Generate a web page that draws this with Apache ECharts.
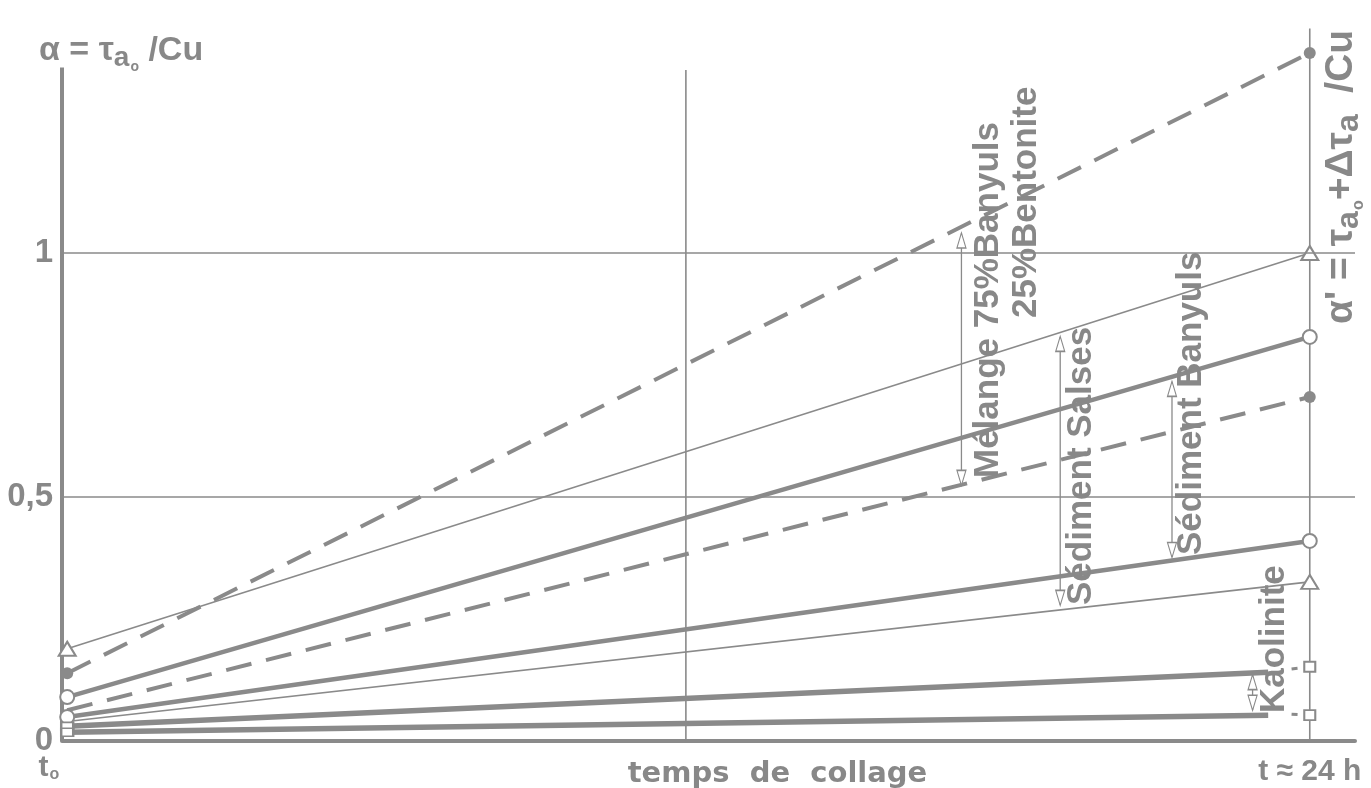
<!DOCTYPE html>
<html><head><meta charset="utf-8">
<script src="https://cdn.jsdelivr.net/npm/echarts@6/dist/echarts.min.js"></script>
<style>html,body{margin:0;padding:0;background:#fff}#c{width:1371px;height:788px}</style>
</head><body><div id="c"></div>
<script>
// ---------------- data ----------------
// x: hours of collage (t0 .. t≈24h); y: alpha = tau_a0 / Cu
const xStart = 0.1, xEnd = 24;
const yTickValues = [0, 0.5, 1];
const yTickLabels = ['0', '0,5', '1'];
const xTickValues = [0, 24];
const gridY = [0.5, 1];
const midLineX = 12, midLineTop = 1.375;
const rightLineTop = 1.46;
const leftAxisTop = 1.38;

// Mélange 75% Banyuls / 25% Bentonite (dashed, filled dots)
const melangeUpper = [0.139, 1.41];
const melangeLower = [0.063, 0.705];
// Sédiment Salses (thin, triangles)
const salsesUpper = [0.189, 1.0];
const salsesLower = [0.04, 0.326];
// Sédiment Banyuls (thick, open circles)
const banyulsUpper = [0.09, 0.828];
const banyulsLower = [0.049, 0.41];
// Kaolinite (thick, squares) : solid part, dashed tail point, end square
const kaoliniteX = [0.1, 23.2, 23.65, 24];
const kaoliniteUpper = [0.03, 0.141, 0.1475, 0.152];
const kaoliniteLower = [0.018, 0.053, 0.055, 0.053];

// double arrows: x, top, bottom
const arrowX = [17.3, 19.2, 21.35, 22.9];
const arrowTop = [1.04, 0.828, 0.736, 0.135];
const arrowBottom = [0.525, 0.279, 0.377, 0.064];

// ---------------- styling ----------------
const C = '#8a8a8a';
const TXT = '#888888';
const FONT = '"Liberation Sans", Arial, Helvetica, sans-serif';

function pt(x, y, sym, size, filled) {
  if (!sym) return { value: [x, y], symbol: 'none' };
  return { value: [x, y], symbol: sym, symbolSize: size,
    itemStyle: { color: filled ? C : '#fff', borderColor: C, borderWidth: filled ? 0 : 2 } };
}
function lineSeries(data, width, type, z) {
  return { type: 'line', data, clip: false, z: z || 3, showSymbol: true,
    lineStyle: { color: C, width, type: type || 'solid' }, emphasis: { disabled: true }, silent: true };
}
const series = [];
series.push({ type: 'line', data: [], silent: true,
  markLine: { silent: true, symbol: 'none', label: { show: false },
    lineStyle: { color: C, width: 1.6, type: 'solid' },
    data: gridY.map(v => ({ yAxis: v })) } });
series.push(lineSeries([pt(0, 0), pt(0, leftAxisTop)], 4, 'solid', 2));
series.push(lineSeries([pt(midLineX, 0), pt(midLineX, midLineTop)], 1.6, 'solid', 2));
series.push(lineSeries([pt(xEnd, 0), pt(xEnd, rightLineTop)], 1.6, 'solid', 2));

series.push(lineSeries([pt(xStart, melangeUpper[0], 'circle', 12, true), pt(xEnd, melangeUpper[1], 'circle', 12, true)], 4, [26, 15]));
series.push(lineSeries([pt(xStart, melangeLower[0]), pt(xEnd, melangeLower[1], 'circle', 12, true)], 4, [26, 15]));
series.push(lineSeries([pt(xStart, salsesUpper[0], 'triangle', [17, 14]), pt(xEnd, salsesUpper[1], 'triangle', [17, 14])], 1.6));
series.push(lineSeries([pt(xStart, salsesLower[0]), pt(xEnd, salsesLower[1], 'triangle', [17, 14])], 1.6));
series.push(lineSeries([pt(xStart, banyulsUpper[0], 'circle', 14), pt(xEnd, banyulsUpper[1], 'circle', 14)], 4.5));
series.push(lineSeries([pt(xStart, banyulsLower[0], 'circle', 14), pt(xEnd, banyulsLower[1], 'circle', 14)], 4.5));
[kaoliniteUpper, kaoliniteLower].forEach(k => {
  series.push(lineSeries([pt(kaoliniteX[0], k[0], 'rect', [12, 8]), pt(kaoliniteX[1], k[1])], 5.5));
  series.push(lineSeries([pt(kaoliniteX[2], k[2]), pt(kaoliniteX[3], k[3], 'rect', [11, 10])], 3, [6, 9]));
});
arrowX.forEach((x, i) => {
  series.push({ type: 'line', clip: false, z: 4, silent: true,
    lineStyle: { color: C, width: 1.3 },
    data: [
      { value: [x, arrowTop[i]], symbol: 'triangle', symbolSize: [9, 15], symbolOffset: [0, 7],
        itemStyle: { color: '#fff', borderColor: C, borderWidth: 1.3 } },
      { value: [x, arrowBottom[i]], symbol: 'triangle', symbolSize: [9, 15], symbolRotate: 180, symbolOffset: [0, -7],
        itemStyle: { color: '#fff', borderColor: C, borderWidth: 1.3 } }
    ] });
});

function vtext(x, y, text, size, rich) {
  const st = { text, fill: TXT, font: `bold ${size}px ${FONT}`, fontSize: size, fontWeight: 'bold', fontFamily: FONT,
    align: 'left', verticalAlign: 'middle', textAlign: 'left', textVerticalAlign: 'middle' };
  if (rich) st.rich = rich;
  return { type: 'text', x, y, rotation: Math.PI / 2, silent: true, z: 10, style: st };
}
function richSet(m) {
  return {
    m: { fontSize: m, fontWeight: 'bold', fontFamily: FONT, fill: TXT, color: TXT, lineHeight: m, verticalAlign: 'top' },
    a: { fontSize: Math.round(m * 0.82), fontWeight: 'bold', fontFamily: FONT, fill: TXT, color: TXT, lineHeight: Math.round(m * 0.82), verticalAlign: 'top', padding: [Math.round(m * 0.3), 0, 0, 0] },
    o: { fontSize: Math.round(m * 0.42), fontWeight: 'bold', fontFamily: FONT, fill: TXT, color: TXT, lineHeight: Math.round(m * 0.42), verticalAlign: 'top', padding: [Math.round(m * 0.75), 0, 0, 1] }
  };
}

const chart = echarts.init(document.getElementById('c'), null, { renderer: 'canvas' });
chart.setOption({
  backgroundColor: '#ffffff',
  animation: false,
  grid: { left: 62, right: 16, top: 28.5, bottom: 47, containLabel: false, outerBoundsMode: 'none' },
  xAxis: {
    type: 'value', min: 0, max: 24.87, interval: 24,
    axisLine: { show: true, lineStyle: { color: C, width: 4 } },
    axisTick: { show: false }, splitLine: { show: false },
    axisLabel: {
      margin: 12, color: TXT, fontFamily: FONT, fontWeight: 'bold', fontSize: 29,
      formatter: v => v === xTickValues[0] ? '{t|t}{s|o}{sp|}' : (v === xTickValues[1] ? '{b|t ≈ 24 h}' : ''),
      rich: {
        t: { fontSize: 30, fontWeight: 'bold', fontFamily: FONT, color: TXT, verticalAlign: 'top', lineHeight: 30 },
        s: { fontSize: 16, fontWeight: 'bold', fontFamily: FONT, color: TXT, verticalAlign: 'top', lineHeight: 16, padding: [14, 0, 0, 1] },
        sp: { width: 26 },
        b: { fontSize: 30, fontWeight: 'bold', fontFamily: FONT, color: TXT, padding: [4, 0, 0, 0] }
      }
    },
    name: 'temps  de  collage', nameLocation: 'middle', nameGap: 19, nameMoveOverlap: false,
    nameTextStyle: { color: TXT, fontFamily: '"DejaVu Sans", sans-serif', fontWeight: 'bold', fontSize: 29, padding: [0, 0, 0, 138] }
  },
  yAxis: {
    type: 'value', min: 0, max: 1.46, interval: 0.5,
    axisLine: { show: false }, axisTick: { show: false }, splitLine: { show: false },
    axisLabel: {
      margin: 9, color: TXT, fontFamily: FONT, fontWeight: 'bold', fontSize: 33, padding: [0, 0, 10, 0],
      formatter: v => { const i = yTickValues.indexOf(v); return i >= 0 ? yTickLabels[i] : ''; }
    }
  },
  series,
  graphic: [
    { type: 'text', x: 39, y: 34, silent: true, z: 10,
      style: { text: '{m|α = τ}{a|a}{o|o}{m| /Cu}', rich: richSet(34), fill: TXT, align: 'left', verticalAlign: 'top' } },
    vtext(1341, 324, '{m|α\' = τ}{a|a}{o|o}{m|+Δτ}{a|a}{m|  /Cu}', 39, richSet(39)),
    vtext(988, 478, 'Mélange 75%Banyuls', 35),
    vtext(1026, 318, '25%Bentonite', 35),
    vtext(1081, 605, 'Sédiment Salses', 35),
    vtext(1191, 555, 'Sédiment Banyuls', 35),
    vtext(1274, 713, 'Kaolinite', 35)
  ]
});
</script></body></html>
